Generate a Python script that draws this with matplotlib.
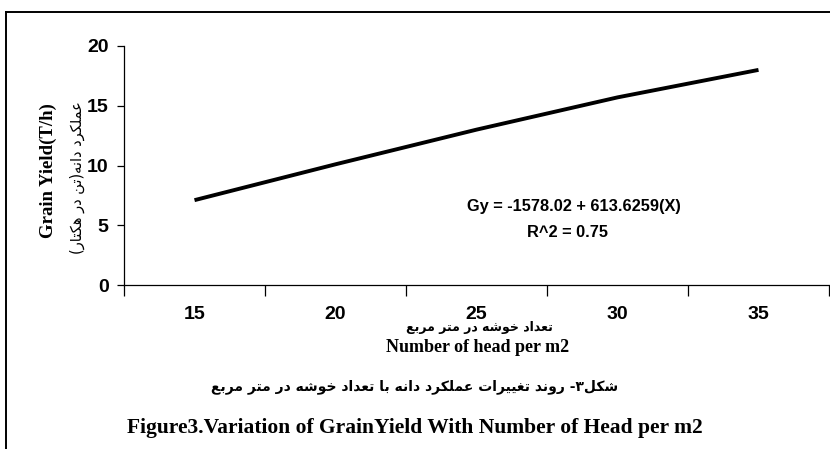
import matplotlib
matplotlib.use("Agg")
import matplotlib.pyplot as plt
from matplotlib.lines import Line2D

# ---- data ----
categories = ["15", "20", "25", "30", "35"]
grain_yield = [7.1, 10.1, 13.0, 15.7, 18.0]
y_ticks = [0, 5, 10, 15, 20]
equation = "Gy = -1578.02 + 613.6259(X)"
r2_text = "R^2 = 0.75"
ylabel_en = "Grain Yield(T/h)"
ylabel_fa = "عملکرد دانه(تن در هکتار)"
xlabel_fa = "تعداد خوشه در متر مربع"
xlabel_en = "Number of head per m2"
caption_fa = "شکل۳- روند تغییرات عملکرد دانه با تعداد خوشه در متر مربع"
caption_en = "Figure3.Variation of GrainYield With Number of Head per m2"

# ---- simple Persian shaping (presentation forms + RTL order) ----
FORMS = {
    'ا': ('\uFE8D', '\uFE8E', None, None),
    'ب': ('\uFE8F', '\uFE90', '\uFE91', '\uFE92'),
    'ت': ('\uFE95', '\uFE96', '\uFE97', '\uFE98'),
    'خ': ('\uFEA5', '\uFEA6', '\uFEA7', '\uFEA8'),
    'د': ('\uFEA9', '\uFEAA', None, None),
    'ر': ('\uFEAD', '\uFEAE', None, None),
    'ش': ('\uFEB5', '\uFEB6', '\uFEB7', '\uFEB8'),
    'ع': ('\uFEC9', '\uFECA', '\uFECB', '\uFECC'),
    'غ': ('\uFECD', '\uFECE', '\uFECF', '\uFED0'),
    'ل': ('\uFEDD', '\uFEDE', '\uFEDF', '\uFEE0'),
    'م': ('\uFEE1', '\uFEE2', '\uFEE3', '\uFEE4'),
    'ن': ('\uFEE5', '\uFEE6', '\uFEE7', '\uFEE8'),
    'ه': ('\uFEE9', '\uFEEA', '\uFEEB', '\uFEEC'),
    'و': ('\uFEED', '\uFEEE', None, None),
    'ک': ('\uFB8E', '\uFB8F', '\uFB90', '\uFB91'),
    'ی': ('\uFBFC', '\uFBFD', '\uFBFE', '\uFBFF'),
}


def shape(s):
    out = []
    n = len(s)
    for i, c in enumerate(s):
        if c not in FORMS:
            out.append(c)
            continue
        prev = s[i - 1] if i > 0 else ''
        nxt = s[i + 1] if i < n - 1 else ''
        jp = prev in FORMS and FORMS[prev][2] is not None
        jn = nxt in FORMS and FORMS[c][2] is not None
        iso, fin, ini, med = FORMS[c]
        if jp and jn:
            out.append(med)
        elif jp:
            out.append(fin)
        elif jn:
            out.append(ini)
        else:
            out.append(iso)
    vis = ''.join(out)[::-1]
    mirror = {'(': ')', ')': '('}
    return ''.join(mirror.get(ch, ch) for ch in vis)


W, H = 830, 449
fig = plt.figure(figsize=(W / 100, H / 100), dpi=100)
fig.patch.set_facecolor("white")

ax_l, ax_r, ax_t, ax_b = 124, 829, 46, 285
ax = fig.add_axes([ax_l / W, 1 - ax_b / H, (ax_r - ax_l) / W, (ax_b - ax_t) / H])

x = list(range(len(categories)))
ax.plot(x, grain_yield, color="black", lw=2.8, solid_capstyle="butt")
ax.set_xlim(-0.5, len(categories) - 0.5)
ax.set_ylim(0, 20)

for s in ["top", "right"]:
    ax.spines[s].set_visible(False)
for s in ["left", "bottom"]:
    ax.spines[s].set_linewidth(0.9)

sans = ["Liberation Sans", "DejaVu Sans"]
serif = ["Liberation Serif", "DejaVu Serif"]
fa = ["DejaVu Sans"]

ax.set_yticks(y_ticks)
ax.set_yticklabels([str(v) for v in y_ticks], fontsize=14, fontweight="bold", family=sans)
ax.tick_params(axis="y", direction="out", length=5, width=0.9, pad=6)

ax.set_xticks(x)
ax.set_xticklabels(categories, fontsize=14, fontweight="bold", family=sans)
ax.set_xticks([i - 0.5 for i in range(len(categories) + 1)], minor=True)
ax.tick_params(axis="x", which="major", length=0, pad=15)
ax.tick_params(axis="x", which="minor", direction="out", length=8, width=0.9)


def ftext(px, py, s, **kw):
    return fig.text(px / W, 1 - py / H, s, ha="center", va="center", **kw)


# equation
ftext(574, 207, equation, fontsize=11.8, fontweight="bold", family=sans)
ftext(567, 232, r2_text, fontsize=11.8, fontweight="bold", family=sans)

# axis labels
ftext(48, 171, ylabel_en, rotation=90, fontsize=13.5, fontweight="bold", family=serif)
ftext(77, 178, shape(ylabel_fa), rotation=90, fontsize=10.5, family=fa)
ftext(479, 328, shape(xlabel_fa), fontsize=9, fontweight="bold", family=fa)
ftext(478, 348, xlabel_en, fontsize=13, fontweight="bold", family=serif)

# captions
ftext(415, 387, shape(caption_fa), fontsize=10, fontweight="bold", family=fa)
ftext(415, 428, caption_en, fontsize=15.5, fontweight="bold", family=serif)

# outer frame (partially visible)
fig.add_artist(Line2D([6 / W, 1.0], [1 - 12 / H, 1 - 12 / H], transform=fig.transFigure,
                      color="black", lw=1.4))
fig.add_artist(Line2D([6 / W, 6 / W], [1 - 12 / H, 0.0], transform=fig.transFigure,
                      color="black", lw=1.4))

fig.savefig("out.png", dpi=100)
